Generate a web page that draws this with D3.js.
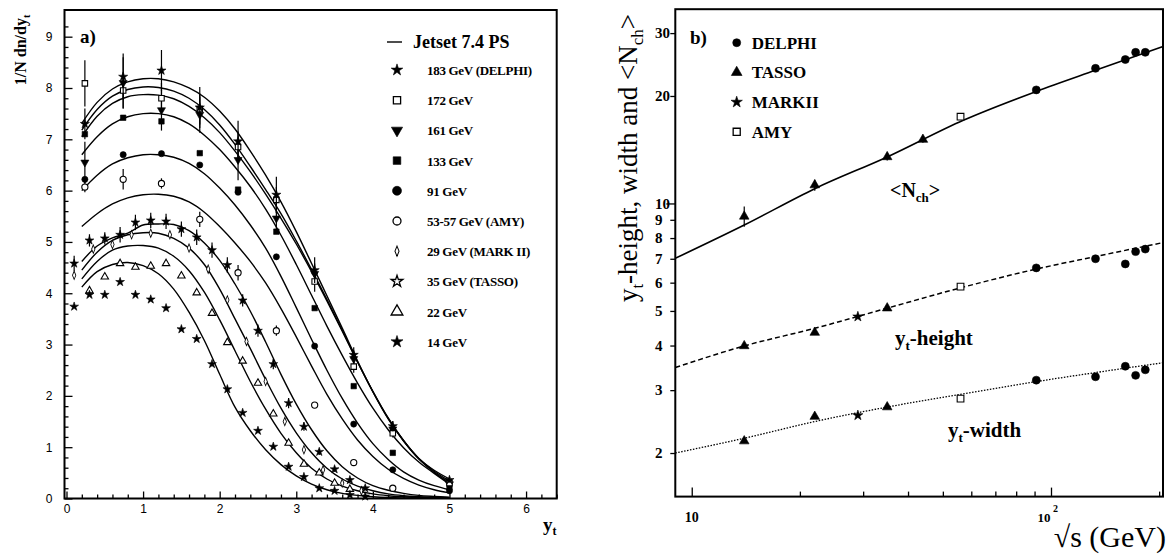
<!DOCTYPE html>
<html><head><meta charset="utf-8">
<script src="https://cdn.jsdelivr.net/npm/d3@7"></script>
<style>body{margin:0;background:#fff} svg{display:block}</style>
</head><body>
<svg id="c" width="1171" height="556"></svg>
<script>
// ---------- Panel a data ----------
const ytGrid = [0.2,0.4,0.6,0.8,1.0,1.2,1.4,1.6,1.8,2.0,2.2,2.4,2.6,2.8,3.0,3.2,3.4,3.6,3.8,4.0,4.2,4.4,4.6,4.8,5.0];
const jet183 = [7.31,7.72,7.98,8.12,8.18,8.18,8.12,8.00,7.82,7.55,7.20,6.77,6.30,5.78,5.20,4.58,3.95,3.32,2.68,2.08,1.55,1.12,0.78,0.55,0.38];
const jet172 = [7.18,7.58,7.84,7.97,8.02,8.01,7.94,7.80,7.58,7.28,6.90,6.47,6.02,5.55,5.02,4.46,3.88,3.28,2.66,2.08,1.56,1.13,0.78,0.53,0.34];
const jet161 = [7.05,7.45,7.70,7.83,7.87,7.86,7.79,7.64,7.42,7.13,6.77,6.37,5.93,5.46,4.96,4.42,3.85,3.26,2.66,2.09,1.57,1.13,0.77,0.51,0.31];
const jet133 = [6.70,7.05,7.30,7.44,7.50,7.50,7.44,7.30,7.08,6.80,6.46,6.08,5.64,5.13,4.56,3.96,3.36,2.79,2.25,1.76,1.34,0.99,0.71,0.49,0.28];
const jet91  = [6.00,6.30,6.52,6.64,6.70,6.70,6.65,6.53,6.33,6.05,5.72,5.33,4.88,4.33,3.72,3.10,2.50,1.95,1.47,1.07,0.76,0.52,0.36,0.25,0.17];
const jet55  = [5.30,5.55,5.74,5.86,5.92,5.93,5.89,5.78,5.58,5.30,4.98,4.62,4.20,3.70,3.15,2.58,2.03,1.55,1.14,0.82,0.57,0.39,0.26,0.17,0.11];
const jet35  = [4.62,4.92,5.08,5.17,5.33,5.35,5.34,5.22,4.98,4.64,4.18,3.65,3.05,2.42,1.84,1.34,0.93,0.62,0.40,0.25,0.16,0.10,0.06,0.04,0.025];
const jet29  = [4.45,4.80,5.03,5.14,5.18,5.17,5.07,4.88,4.56,4.08,3.50,2.92,2.32,1.76,1.28,0.89,0.59,0.38,0.24,0.15,0.09,0.055,0.035,0.022,0.014];
const jet22  = [4.28,4.62,4.84,4.92,4.93,4.88,4.72,4.44,4.02,3.48,2.88,2.28,1.74,1.27,0.89,0.59,0.38,0.24,0.15,0.09,0.055,0.035,0.02,0.013,0.008];
const jet14  = [4.12,4.42,4.56,4.60,4.54,4.38,4.08,3.63,3.08,2.42,1.78,1.32,0.95,0.66,0.44,0.28,0.17,0.10,0.06,0.035,0.02,0.012,0.008,0.005,0.003];

const binsHigh = [0.24,0.74,1.24,1.74,2.24,2.74,3.24,3.75,4.26,5.0];
const d183 = [7.30,8.22,8.34,7.62,6.96,5.92,4.45,2.80,1.41,0.36];
const e183 = [0.30,0.45,0.40,0.40,0.40,0.35,0.25,0.15,0.10,0.05];
const d172 = [8.09,7.95,7.80,7.59,6.85,5.82,4.23,2.57,1.27,0.30];
const e172 = [0.45,0.35,0.30,0.30,0.30,0.25,0.20,0.12,0.08,0.05];
const d161 = [6.55,8.10,7.57,7.48,6.60,5.46,4.38,2.72,1.35,0.28];
const e161 = [0.40,0.50,0.40,0.35,0.40,0.30,0.20,0.15,0.10,0.05];
const d133 = [7.10,7.42,7.35,6.73,6.02,5.20,3.71,2.19,0.89,0.22];
const d91  = [6.22,6.70,6.72,6.50,5.97,4.71,2.97,1.45,0.56,0.15];
const binsAmy = [0.24,0.74,1.24,1.74,2.24,2.74,3.24,3.75,4.26];
const dAmy = [6.07,6.22,6.14,5.44,4.40,3.27,1.82,0.70,0.20];
const eAmy = [0.10,0.20,0.10,0.15,0.15,0.10,0.05,0.04,0.03];
const binsLow = [0.1,0.3,0.5,0.7,0.9,1.1,1.3,1.5,1.7,1.9,2.1,2.3,2.5,2.7,2.9,3.1,3.3,3.5,3.7,3.9];
const d14 = [3.74,3.97,3.97,4.22,3.97,3.88,3.71,3.30,3.11,2.62,2.13,1.67,1.32,1.01,0.62,0.42,0.20,0.15,0.07,0.04];
const d35 = [4.58,5.03,5.07,5.14,5.38,5.42,5.40,5.25,5.09,4.84,4.55,3.86,3.27,2.62,1.86,1.40,0.91,0.57,0.36,0.20];
const e35 = [0.15,0.12,0.12,0.15,0.15,0.15,0.15,0.15,0.15,0.15,0.15,0.12,0.12,0.10,0.10,0.08,0.06,0.05,0.04,0.03];
const bins22 = [0.3,0.5,0.7,0.9,1.1,1.3,1.5,1.7,1.9,2.1,2.3,2.5,2.7,2.9,3.1,3.3,3.5,3.7];
const d22 = [4.05,4.32,4.58,4.51,4.53,4.58,4.34,4.01,3.61,3.04,2.68,2.25,1.65,1.08,0.67,0.50,0.30,0.18];
const bins29 = [0.1,0.35,0.6,0.85,1.1,1.35,1.6,1.85,2.1,2.35,2.6,2.85,3.1,3.35,3.6,3.85];
const d29 = [4.35,4.86,4.95,5.14,5.17,5.14,4.88,4.47,3.87,3.06,2.28,1.50,0.95,0.56,0.30,0.15];

const legendA = ["183 GeV (DELPHI)","172 GeV","161 GeV","133 GeV","91 GeV","53-57 GeV (AMY)","29 GeV (MARK II)","35 GeV (TASSO)","22 GeV","14 GeV"];
const xTicksA = [0,1,2,3,4,5,6];
const yTicksA = [0,1,2,3,4,5,6,7,8,9];

// ---------- Panel b data ----------
const fitS      = [9, 14, 22, 35, 57, 91, 133, 205];
const fitNch    = [7.02, 8.7, 11.0, 13.5, 17.1, 20.6, 23.6, 27.5];
const fitHeight = [3.47, 3.99, 4.47, 5.09, 5.83, 6.55, 7.1, 7.77];
const fitWidth  = [2.0, 2.2, 2.45, 2.69, 2.93, 3.17, 3.36, 3.58];
const delphiS = [91, 133, 161, 172, 183];
const delphiNch = [20.8, 23.9, 25.3, 26.5, 26.5];
const delphiHeight = [6.6, 7.0, 6.77, 7.33, 7.45];
const delphiWidth = [3.20, 3.27, 3.50, 3.30, 3.42];
const tassoNchS = [14, 22, 35, 44];
const tassoNch = [9.2, 11.26, 13.5, 15.1];
const tassoNchErr = [0.6, 0.4, 0.3, 0.3];
const tassoShapeS = [14, 22, 35];
const tassoHeight = [3.99, 4.35, 5.09];
const tassoWidth = [2.16, 2.53, 2.69];
const markiiS = [29];
const markiiHeight = [4.82];
const markiiWidth = [2.55];
const amyS = [56];
const amyNch = [17.5];
const amyHeight = [5.85];
const amyWidth = [2.84];
const legendB = ["DELPHI","TASSO","MARKII","AMY"];
const yTicksB = [2,3,4,5,6,7,8,9,10,20,30];
const xTicksB = [10,20,30,40,50,60,70,80,90,100,200];

// ---------- drawing ----------
const svg = d3.select('#c');
const SERIF = '"Liberation Serif","Times New Roman",serif';
const SANS = '"Liberation Sans",Arial,sans-serif';
const sym = (type, size) => d3.symbol().type(type).size(size)();

// ===== Panel a =====
const xA = d3.scaleLinear().domain([-0.026, 6.4]).range([64.5, 556.7]);
const yA = d3.scaleLinear().domain([0, 9.52]).range([498.5, 10]);
const gA = svg.append('g');

const minorY = d3.range(0, 47).map(i => i * 0.2).filter(v => Math.abs(v - Math.round(v)) > 1e-6);
const minorX = d3.range(0, 33).map(i => i * 0.2).filter(v => Math.abs(v - Math.round(v)) > 1e-6);

function styleAxis(g, fs, fam, weight) {
  g.select('.domain').remove();
  g.selectAll('line').attr('stroke', '#000').attr('stroke-width', 1.3);
  g.selectAll('text').attr('font-size', fs).attr('font-family', fam).attr('font-weight', weight || 'normal').attr('fill', '#000');
}
gA.append('g').attr('transform', `translate(${xA.range()[0]},0)`)
  .call(d3.axisLeft(yA).tickValues(yTicksA).tickSize(-8).tickPadding(12).tickFormat(d3.format('d')))
  .call(g => styleAxis(g, 12, SANS));
gA.append('g').attr('transform', `translate(${xA.range()[0]},0)`)
  .call(d3.axisLeft(yA).tickValues(minorY).tickSize(-4).tickFormat(''))
  .call(g => styleAxis(g, 12, SANS));
gA.append('g').attr('transform', `translate(0,${yA.range()[0]})`)
  .call(d3.axisBottom(xA).tickValues(xTicksA).tickSize(-7).tickPadding(6).tickFormat(d3.format('d')))
  .call(g => styleAxis(g, 12, SANS));
gA.append('g').attr('transform', `translate(0,${yA.range()[0]})`)
  .call(d3.axisBottom(xA).tickValues(minorX).tickSize(-4).tickFormat(''))
  .call(g => styleAxis(g, 12, SANS));
gA.append('rect').attr('x', xA.range()[0]).attr('y', yA.range()[1])
  .attr('width', xA.range()[1] - xA.range()[0]).attr('height', yA.range()[0] - yA.range()[1])
  .attr('fill', 'none').attr('stroke', '#000').attr('stroke-width', 2);

// curves
const lineA = d3.line().x((d, i) => xA(ytGrid[i])).y(d => yA(d)).curve(d3.curveCatmullRom.alpha(0.5));
[jet183, jet172, jet161, jet133, jet91, jet55, jet35, jet29, jet22, jet14].forEach(arr => {
  gA.append('path').attr('d', lineA(arr)).attr('fill', 'none').attr('stroke', '#000').attr('stroke-width', 1.4);
});

// markers
function markers(g, xs, ys, errs, xsc, ysc, type, size, filled, opts) {
  opts = opts || {};
  const grp = g.append('g');
  xs.forEach((x, i) => {
    if (i >= ys.length) return;
    const cx = xsc(x), cy = ysc(ys[i]);
    if (errs && errs[i]) {
      grp.append('line').attr('x1', cx).attr('x2', cx)
        .attr('y1', ysc(ys[i] - errs[i])).attr('y2', ysc(ys[i] + errs[i]))
        .attr('stroke', '#000').attr('stroke-width', 1.2);
    }
    grp.append('path').attr('d', sym(type, size))
      .attr('transform', `translate(${cx},${cy})` + (opts.rot ? ` rotate(${opts.rot})` : '') + (opts.sx ? ` scale(${opts.sx},1)` : ''))
      .attr('fill', filled ? '#000' : '#fff').attr('stroke', '#000').attr('stroke-width', filled ? 0.6 : 1.1);
  });
}
markers(gA, bins29, d29, null, xA, yA, d3.symbolDiamond, 20, false, {sx: 0.7});
markers(gA, bins22, d22, null, xA, yA, d3.symbolTriangle, 24, false);
markers(gA, binsLow, d14, null, xA, yA, d3.symbolStar, 24, true);
markers(gA, binsLow, d35, e35, xA, yA, d3.symbolStar, 24, true);
markers(gA, binsAmy, dAmy, eAmy, xA, yA, d3.symbolCircle, 30, false);
markers(gA, binsHigh, d91, null, xA, yA, d3.symbolCircle, 30, true);
markers(gA, binsHigh, d133, null, xA, yA, d3.symbolSquare, 30, true);
markers(gA, binsHigh, d161, e161, xA, yA, d3.symbolTriangle, 28, true, {rot: 180});
markers(gA, binsHigh, d172, e172, xA, yA, d3.symbolSquare, 30, false);
markers(gA, binsHigh, d183, e183, xA, yA, d3.symbolStar, 26, true);

// texts panel a
gA.append('text').attr('x', 80).attr('y', 43).attr('font-family', SERIF).attr('font-weight', 'bold')
  .attr('font-size', 19).text('a)');
const ylabA = gA.append('text').attr('transform', 'translate(26,50) rotate(-90)').attr('text-anchor', 'middle')
  .attr('font-family', SERIF).attr('font-weight', 'bold').attr('font-size', 16);
ylabA.append('tspan').text('1/N dn/dy');
ylabA.append('tspan').attr('font-size', 10).attr('dy', 4).text('t');
const xlabA = gA.append('text').attr('x', 543).attr('y', 531).attr('font-family', SERIF).attr('font-weight', 'bold').attr('font-size', 19);
xlabA.append('tspan').text('y');
xlabA.append('tspan').attr('font-size', 12).attr('dy', 4).text('t');

// legend a
gA.append('line').attr('x1', 387).attr('x2', 402).attr('y1', 42).attr('y2', 42).attr('stroke', '#000').attr('stroke-width', 1.4);
gA.append('text').attr('x', 413).attr('y', 48).attr('font-family', SERIF).attr('font-weight', 'bold')
  .attr('font-size', 18).text('Jetset 7.4 PS');
const legSyms = [
  {t: d3.symbolStar, s: 42, f: true}, {t: d3.symbolSquare, s: 52, f: false}, {t: d3.symbolTriangle, s: 55, f: true, rot: 180},
  {t: d3.symbolSquare, s: 58, f: true}, {t: d3.symbolCircle, s: 64, f: true}, {t: d3.symbolCircle, s: 50, f: false},
  {t: d3.symbolDiamond, s: 30, f: false, sx: 0.7}, {t: d3.symbolStar, s: 42, f: false}, {t: d3.symbolTriangle, s: 60, f: false},
  {t: d3.symbolStar, s: 45, f: true}
];
legendA.forEach((lab, i) => {
  const cy = 70 + i * 30.2;
  const s = legSyms[i];
  gA.append('path').attr('d', sym(s.t, s.s))
    .attr('transform', `translate(397,${cy})` + (s.rot ? ` rotate(${s.rot})` : '') + (s.sx ? ` scale(${s.sx},1)` : ''))
    .attr('fill', s.f ? '#000' : '#fff').attr('stroke', '#000').attr('stroke-width', s.f ? 0.6 : 1.3);
  gA.append('text').attr('x', 427).attr('y', cy + 5).attr('font-family', SERIF).attr('font-weight', 'bold')
    .attr('font-size', 13).attr('letter-spacing', -0.3).text(lab);
});

// ===== Panel b =====
const xB = d3.scaleLog().domain([9, 205]).range([675.3, 1163]);
const yB = d3.scaleLog().domain([1.51, 35]).range([496.6, 9.2]);
const gB = svg.append('g');

const yAxB = gB.append('g').attr('transform', `translate(${xB.range()[0]},0)`)
  .call(d3.axisLeft(yB).tickValues(yTicksB).tickSize(5).tickPadding(4).tickFormat(d3.format('d')))
  .call(g => styleAxis(g, 15, SERIF, 'bold'));
yAxB.selectAll('.tick line').attr('x2', d => d === 10 ? -9 : -5);
yAxB.selectAll('.tick text').attr('text-anchor', 'start').attr('x', 655 - xB.range()[0]);

gB.append('g').attr('transform', `translate(0,${yB.range()[0]})`)
  .call(d3.axisBottom(xB).tickValues(xTicksB).tickSize(-5).tickFormat(''))
  .call(g => styleAxis(g, 14, SERIF))
  .call(g => g.selectAll('.tick line').attr('y2', d => (d === 10 || d === 100) ? -9 : -5));
gB.append('rect').attr('x', xB.range()[0]).attr('y', yB.range()[1])
  .attr('width', xB.range()[1] - xB.range()[0]).attr('height', yB.range()[0] - yB.range()[1])
  .attr('fill', 'none').attr('stroke', '#000').attr('stroke-width', 2);

gB.append('text').attr('x', xB(10)).attr('y', 522).attr('text-anchor', 'middle')
  .attr('font-family', SERIF).attr('font-weight', 'bold').attr('font-size', 14).text('10');
gB.append('text').attr('x', xB(100) - 7).attr('y', 522).attr('text-anchor', 'middle')
  .attr('font-family', SERIF).attr('font-weight', 'bold').attr('font-size', 13).text('10');
gB.append('text').attr('x', xB(100) + 2).attr('y', 512).attr('font-family', SERIF).attr('font-weight', 'bold')
  .attr('font-size', 10).text('2');

// fits
const lineB = (arr) => d3.line().x((d, i) => xB(fitS[i])).y(d => yB(d)).curve(d3.curveMonotoneX)(arr);
gB.append('path').attr('d', lineB(fitNch)).attr('fill', 'none').attr('stroke', '#000').attr('stroke-width', 1.6);
gB.append('path').attr('d', lineB(fitHeight)).attr('fill', 'none').attr('stroke', '#000').attr('stroke-width', 1.5).attr('stroke-dasharray', '5,3');
gB.append('path').attr('d', lineB(fitWidth)).attr('fill', 'none').attr('stroke', '#000').attr('stroke-width', 1.3).attr('stroke-dasharray', '1.5,1.5');

markers(gB, tassoNchS, tassoNch, tassoNchErr, xB, yB, d3.symbolTriangle, 40, true);
markers(gB, tassoShapeS, tassoHeight, null, xB, yB, d3.symbolTriangle, 40, true);
markers(gB, tassoShapeS, tassoWidth, null, xB, yB, d3.symbolTriangle, 40, true);
markers(gB, markiiS, markiiHeight, null, xB, yB, d3.symbolStar, 32, true);
markers(gB, markiiS, markiiWidth, null, xB, yB, d3.symbolStar, 32, true);
markers(gB, amyS, amyNch, null, xB, yB, d3.symbolSquare, 45, false);
markers(gB, amyS, amyHeight, null, xB, yB, d3.symbolSquare, 45, false);
markers(gB, amyS, amyWidth, null, xB, yB, d3.symbolSquare, 45, false);
markers(gB, delphiS, delphiNch, null, xB, yB, d3.symbolCircle, 50, true);
markers(gB, delphiS, delphiHeight, null, xB, yB, d3.symbolCircle, 50, true);
markers(gB, delphiS, delphiWidth, null, xB, yB, d3.symbolCircle, 50, true);

// legend b
const legSymB = [{t: d3.symbolCircle, f: true, s: 50}, {t: d3.symbolTriangle, f: true, s: 50}, {t: d3.symbolStar, f: true, s: 40}, {t: d3.symbolSquare, f: false, s: 50}];
legendB.forEach((lab, i) => {
  const cy = 42.7 + i * 29.7;
  const s = legSymB[i];
  gB.append('path').attr('d', sym(s.t, s.s)).attr('transform', `translate(736.7,${cy})`)
    .attr('fill', s.f ? '#000' : '#fff').attr('stroke', '#000').attr('stroke-width', s.f ? 0.6 : 1.3);
  gB.append('text').attr('x', 751.7).attr('y', cy + 6).attr('font-family', SERIF).attr('font-weight', 'bold')
    .attr('font-size', 17).text(lab);
});

gB.append('text').attr('x', 690).attr('y', 44).attr('font-family', SERIF).attr('font-weight', 'bold')
  .attr('font-size', 19).text('b)');

const nchLab = gB.append('text').attr('x', 890).attr('y', 197).attr('font-family', SERIF).attr('font-weight', 'bold').attr('font-size', 20);
nchLab.append('tspan').text('<N');
nchLab.append('tspan').attr('font-size', 13).attr('dy', 5).text('ch');
nchLab.append('tspan').attr('dy', -5).text('>');

const hLab = gB.append('text').attr('x', 895).attr('y', 345).attr('font-family', SERIF).attr('font-weight', 'bold').attr('font-size', 21);
hLab.append('tspan').text('y');
hLab.append('tspan').attr('font-size', 13).attr('dy', 5).text('t');
hLab.append('tspan').attr('dy', -5).text('-height');

const wLab = gB.append('text').attr('x', 948).attr('y', 437).attr('font-family', SERIF).attr('font-weight', 'bold').attr('font-size', 21);
wLab.append('tspan').text('y');
wLab.append('tspan').attr('font-size', 13).attr('dy', 5).text('t');
wLab.append('tspan').attr('dy', -5).text('-width');

gB.append('text').attr('x', 1166).attr('y', 547).attr('text-anchor', 'end').attr('font-family', SERIF)
  .attr('font-size', 30).text('\u221As (GeV)');

const ylabB = gB.append('text').attr('transform', 'translate(637,158) rotate(-90)').attr('text-anchor', 'middle')
  .attr('font-family', SERIF).attr('font-size', 27);
ylabB.append('tspan').text('y');
ylabB.append('tspan').attr('font-size', 17).attr('dy', 6).text('t');
ylabB.append('tspan').attr('dy', -6).text('-height, width and <N');
ylabB.append('tspan').attr('font-size', 17).attr('dy', 6).text('ch');
ylabB.append('tspan').attr('dy', -6).text('>');
</script>
</body></html>
